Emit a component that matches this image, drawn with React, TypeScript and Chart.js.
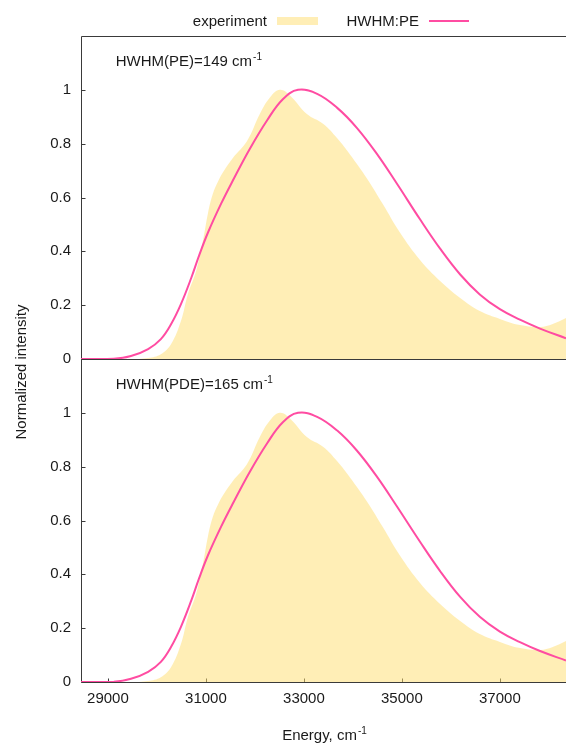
import React, { useEffect, useRef } from "react";
import { Chart, registerables } from "chart.js";

Chart.register(...registerables);

// Energy axis (cm^-1) ticks
const energyTicks = [29000, 31000, 33000, 35000, 37000];
const intensityTicks = [0, 0.2, 0.4, 0.6, 0.8, 1];

// Measured spectrum (shaded area)
const expEnergy = [
  28450, 29450, 29820, 30080, 30290, 30490, 30630, 30800, 30940, 31040, 31140,
  31250, 31330, 31550, 31840, 32100, 32310, 32510, 32720, 33060, 33390, 33680,
  33940, 34290, 34610, 34960, 35370, 35780, 36190, 36590, 37000, 37410, 37820,
  38080, 38350,
];
const expIntensity = [
  0, 0, 0.004, 0.018, 0.056, 0.141, 0.24, 0.327, 0.44, 0.54, 0.613, 0.66,
  0.688, 0.747, 0.81, 0.91, 0.972, 1.0, 0.978, 0.91, 0.874, 0.82, 0.76, 0.67,
  0.576, 0.47, 0.368, 0.29, 0.227, 0.178, 0.149, 0.126, 0.119, 0.13, 0.152,
];

// Simulated band shapes
const fitEnergy = [
  28450, 29120, 29470, 29820, 30080, 30290, 30490, 30700, 30860, 31040, 31310,
  31550, 31900, 32250, 32570, 32880, 33270, 33680, 34080, 34490, 34900, 35370,
  35780, 36190, 36590, 37000, 37410, 37820, 38350,
];
const fitPE = [
  0, 0.001, 0.011, 0.037, 0.074, 0.13, 0.204, 0.301, 0.384, 0.469, 0.577,
  0.663, 0.782, 0.887, 0.965, 1.0, 0.985, 0.933, 0.859, 0.762, 0.651, 0.519,
  0.41, 0.314, 0.24, 0.185, 0.146, 0.113, 0.077,
];
const fitPDE = [
  0, 0.001, 0.012, 0.038, 0.075, 0.131, 0.205, 0.302, 0.385, 0.47, 0.577,
  0.663, 0.782, 0.887, 0.965, 1.0, 0.985, 0.934, 0.86, 0.763, 0.652, 0.521,
  0.412, 0.316, 0.242, 0.187, 0.148, 0.115, 0.08,
];

const panelLabels = ["HWHM(PE)=149 cm", "HWHM(PDE)=165 cm"];
const legendLabels = ["experiment", "HWHM:PE"];

const FONT = "'Liberation Sans', Arial, sans-serif";
const FILL = "rgba(255, 221, 110, 0.5)";
const LINE = "#ff4ca2";
const TEXT = "#1a1a1a";

const toPoints = (xs: number[], ys: number[]) =>
  xs.map((x, i) => ({ x, y: ys[i] }));

function textWithSup(
  ctx: CanvasRenderingContext2D,
  x: number,
  baseline: number,
  main: string,
  sup: string,
  align: "left" | "center"
) {
  ctx.save();
  ctx.textBaseline = "alphabetic";
  ctx.textAlign = "left";
  ctx.fillStyle = TEXT;
  ctx.font = `15px ${FONT}`;
  const wMain = ctx.measureText(main).width;
  ctx.font = `10px ${FONT}`;
  const wSup = ctx.measureText(sup).width;
  const start = align === "center" ? x - (wMain + wSup) / 2 : x;
  ctx.font = `15px ${FONT}`;
  ctx.fillText(main, start, baseline);
  ctx.font = `10px ${FONT}`;
  ctx.fillText(sup, start + wMain + 1, baseline - 6);
  ctx.restore();
}

const decorations = {
  id: "decorations",
  beforeDatasetsDraw(chart: any) {
    const { ctx, chartArea } = chart;
    const yTop = chart.scales.yTop;
    const yBot = chart.scales.yBot;
    const xs = chart.scales.x;
    ctx.save();
    ctx.lineWidth = 1;
    ctx.strokeStyle = "#3a3a3a";
    // frame: top border, left axis, panel baselines
    const top = Math.round(chartArea.top) + 0.5;
    const left = Math.round(chartArea.left) + 0.5;
    const mid = Math.round(yTop.getPixelForValue(0)) + 0.5;
    const bottom = Math.round(yBot.getPixelForValue(0)) + 0.5;
    ctx.beginPath();
    ctx.moveTo(chartArea.right, top);
    ctx.lineTo(left, top);
    ctx.lineTo(left, bottom);
    ctx.lineTo(chartArea.right, bottom);
    ctx.moveTo(left, mid);
    ctx.lineTo(chartArea.right, mid);
    ctx.stroke();
    // inward tick marks
    ctx.beginPath();
    for (const s of [yTop, yBot]) {
      for (const v of intensityTicks) {
        const p = Math.round(s.getPixelForValue(v)) + 0.5;
        ctx.moveTo(left, p);
        ctx.lineTo(left + 4, p);
      }
    }
    for (const v of energyTicks) {
      const p = Math.round(xs.getPixelForValue(v)) + 0.5;
      ctx.moveTo(p, bottom);
      ctx.lineTo(p, bottom - 4);
    }
    ctx.stroke();
    ctx.restore();
  },
  afterDraw(chart: any) {
    const { ctx } = chart;
    const xs = chart.scales.x;
    const yTop = chart.scales.yTop;
    const yBot = chart.scales.yBot;

    // panel annotations
    textWithSup(ctx, xs.getPixelForValue(29160), yTop.getPixelForValue(1.108) + 5, panelLabels[0], "-1", "left");
    textWithSup(ctx, xs.getPixelForValue(29160), yBot.getPixelForValue(1.108) + 5, panelLabels[1], "-1", "left");

    // legend
    ctx.save();
    ctx.font = `15px ${FONT}`;
    ctx.fillStyle = TEXT;
    ctx.textBaseline = "alphabetic";
    ctx.textAlign = "right";
    ctx.fillText(legendLabels[0], 267, 26);
    ctx.fillText(legendLabels[1], 419, 26);
    ctx.fillStyle = FILL;
    ctx.fillRect(277, 17, 41, 8);
    ctx.strokeStyle = LINE;
    ctx.lineWidth = 2;
    ctx.beginPath();
    ctx.moveTo(429, 21);
    ctx.lineTo(469, 21);
    ctx.stroke();

    // axis titles
    ctx.fillStyle = TEXT;
    ctx.textAlign = "center";
    ctx.translate(26, 372);
    ctx.rotate(-Math.PI / 2);
    ctx.fillText("Normalized intensity", 0, 0);
    ctx.restore();
    textWithSup(ctx, 324, 740, "Energy, cm", "-1", "center");
  },
};

const areaStyle = {
  fill: "origin",
  backgroundColor: FILL,
  borderWidth: 0,
  pointRadius: 0,
  tension: 0.4,
  order: 2,
};

const lineStyle = {
  fill: false,
  borderColor: LINE,
  borderWidth: 2,
  pointRadius: 0,
  tension: 0.4,
  order: 1,
};

export default function App() {
  const canvasRef = useRef<HTMLCanvasElement | null>(null);

  useEffect(() => {
    document.body.style.margin = "0";
    const canvas = canvasRef.current;
    if (!canvas) return;

    const yAxis = (weight: number) => ({
      type: "linear" as const,
      position: "left" as const,
      stack: "panels",
      stackWeight: 1,
      weight,
      min: 0,
      max: 1.2,
      afterBuildTicks: (s: any) => {
        s.ticks = intensityTicks.map((v) => ({ value: v }));
      },
      afterFit: (s: any) => {
        s.width = 81;
      },
      grid: { display: false, drawTicks: false },
      border: { display: false },
      ticks: {
        padding: 10,
        color: TEXT,
        font: { family: FONT, size: 15 },
        callback: (v: any) => String(Math.round(Number(v) * 10) / 10),
      },
    });

    const chart = new Chart(canvas, {
      type: "line",
      data: {
        datasets: [
          { label: "experiment", data: toPoints(expEnergy, expIntensity), yAxisID: "yTop", ...areaStyle },
          { label: "HWHM:PE", data: toPoints(fitEnergy, fitPE), yAxisID: "yTop", ...lineStyle },
          { label: "experiment", data: toPoints(expEnergy, expIntensity), yAxisID: "yBot", ...areaStyle },
          { label: "HWHM:PDE", data: toPoints(fitEnergy, fitPDE), yAxisID: "yBot", ...lineStyle },
        ],
      },
      options: {
        responsive: false,
        animation: false,
        devicePixelRatio: 1,
        layout: { padding: { top: 36, left: 0, right: 0, bottom: 0 } },
        plugins: {
          legend: { display: false },
          tooltip: { enabled: false },
        },
        scales: {
          x: {
            type: "linear",
            position: "bottom",
            min: 28450,
            max: 38350,
            afterBuildTicks: (s: any) => {
              s.ticks = energyTicks.map((v) => ({ value: v }));
            },
            afterFit: (s: any) => {
              s.height = 64;
            },
            grid: { display: false, drawTicks: false },
            border: { display: false },
            ticks: {
              padding: 8,
              color: TEXT,
              maxRotation: 0,
              font: { family: FONT, size: 15 },
              callback: (v: any) => String(v),
            },
          },
          yBot: yAxis(0),
          yTop: yAxis(1),
        } as any,
      },
      plugins: [decorations],
    } as any);

    return () => chart.destroy();
  }, []);

  return (
    <div style={{ position: "absolute", left: 0, top: 0, width: 566, height: 746 }}>
      <canvas ref={canvasRef} width={566} height={746} />
    </div>
  );
}
